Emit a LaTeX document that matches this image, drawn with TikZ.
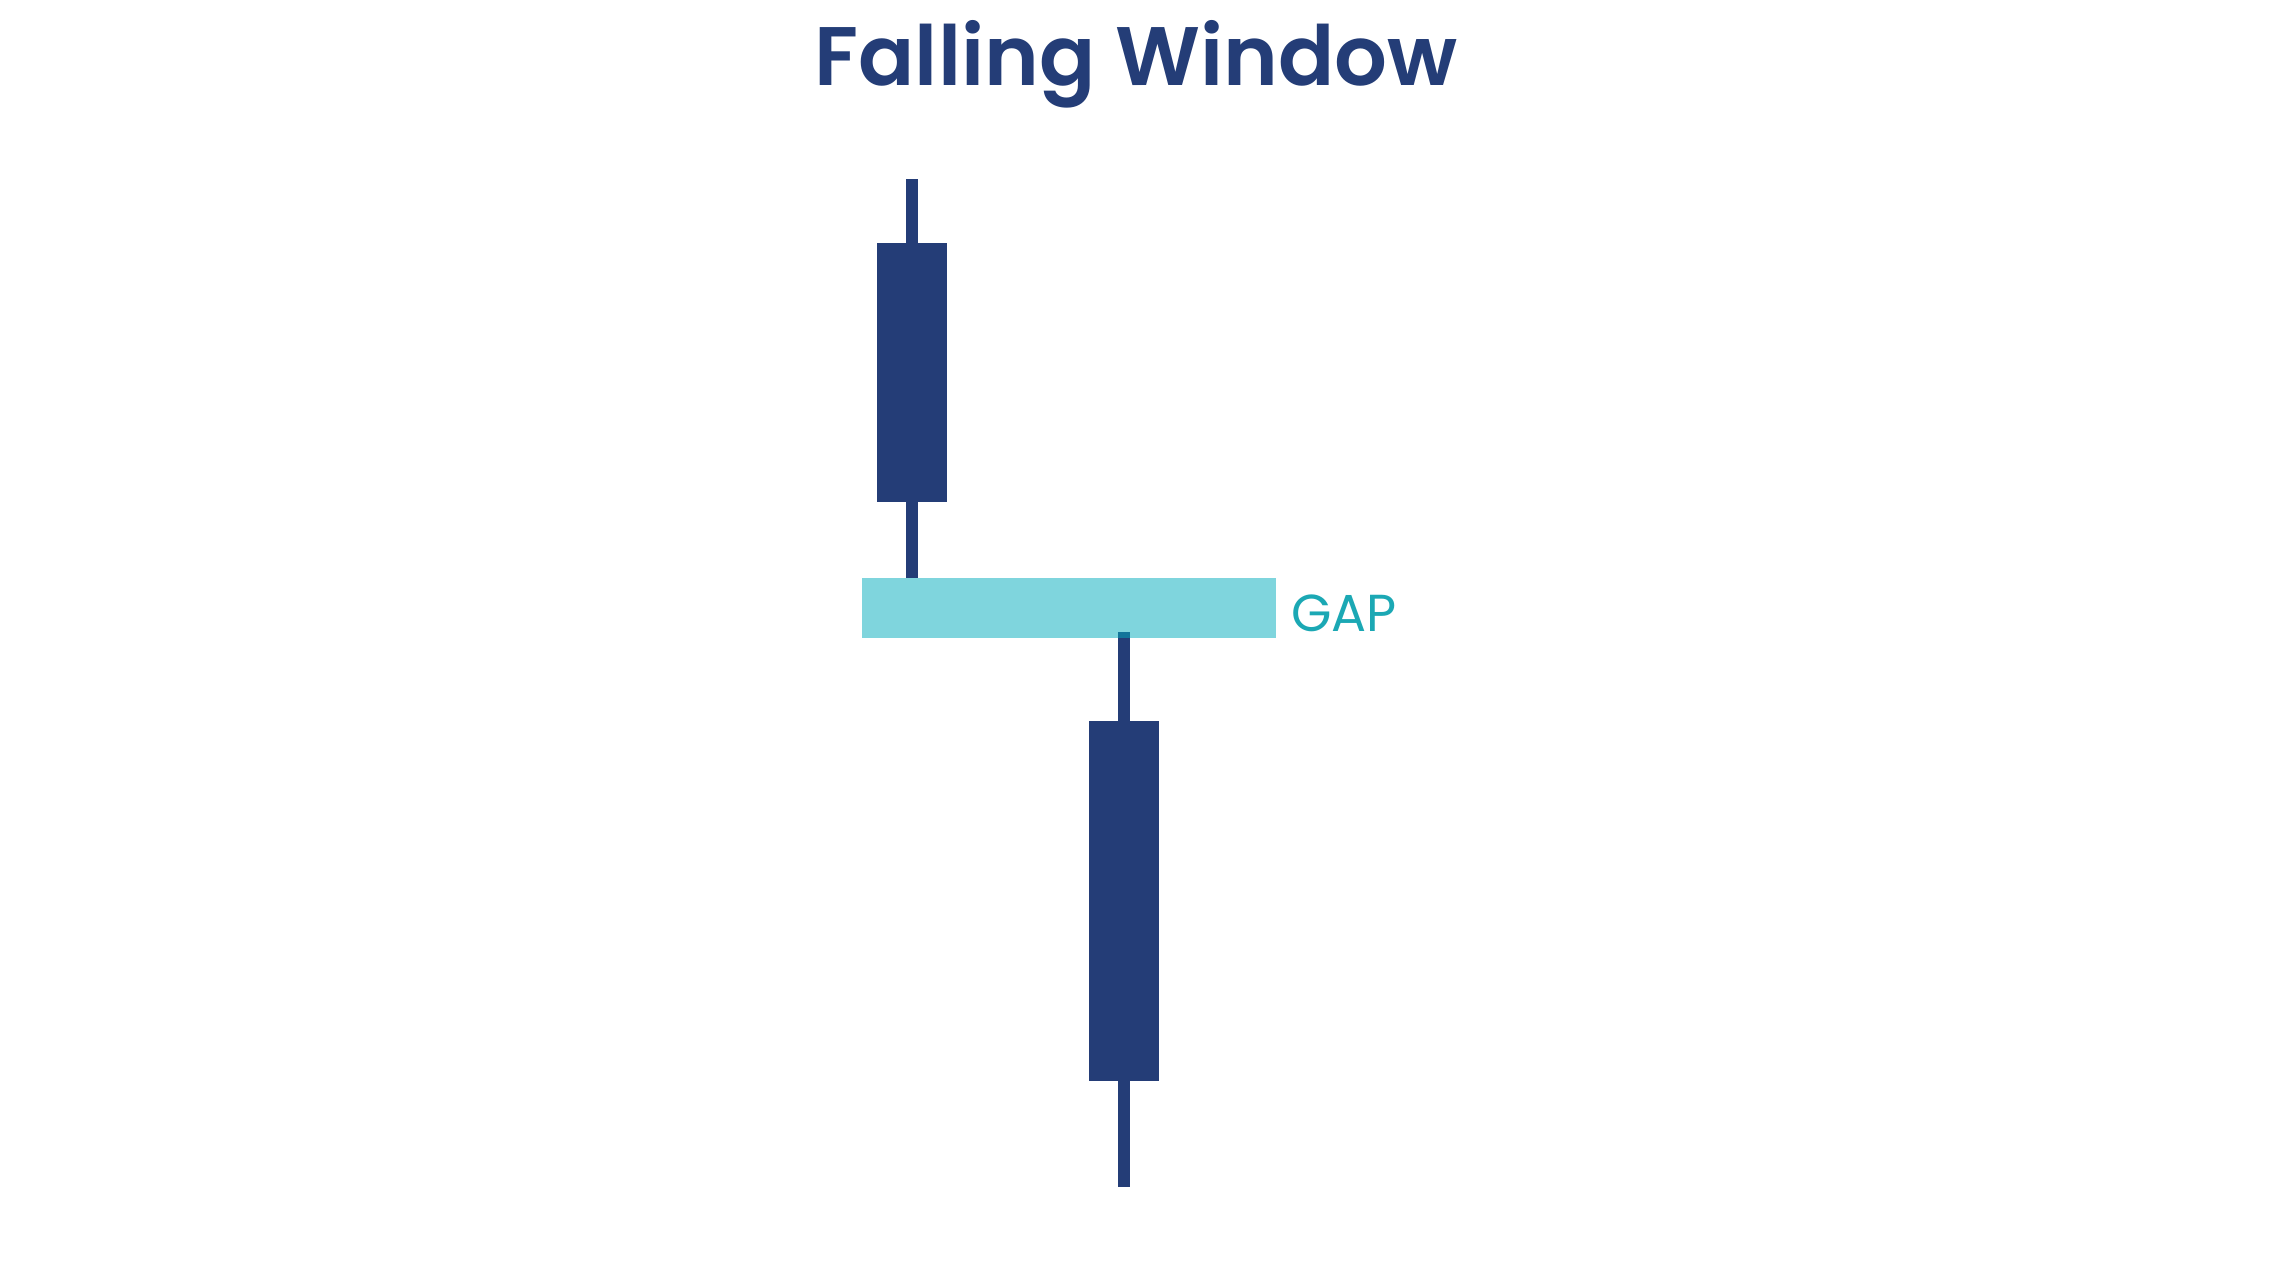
\documentclass[tikz,border=0pt]{standalone}
\usepackage{fontspec}
\setmainfont{Poppins}
\newfontfamily\titlefont{Poppins SemiBold}
\definecolor{navy}{RGB}{36,61,119}
\definecolor{gapbase}{RGB}{1,173,189}
\definecolor{gaptext}{RGB}{27,168,180}
\begin{document}
\begin{tikzpicture}[x=1pt,y=-1pt,
  candle/.style={fill=navy},
  gapband/.style={fill=gapbase,fill opacity=0.5},
  titletext/.style={anchor=base,inner sep=0pt,text=navy,font=\titlefont\fontsize{83}{100}\selectfont},
  gaplabel/.style={anchor=west,inner sep=0pt,text=gaptext,font=\fontsize{52}{62}\selectfont}]
\useasboundingbox[fill=white] (0,0) rectangle (2272,1268);
\node[titletext] (title) at (1136,86) {Falling Window};
% upper candle
\fill[candle] (906,179) rectangle (918,578);
\fill[candle] (877,243) rectangle (947,502);
% lower candle
\fill[candle] (1118,632) rectangle (1130,1187);
\fill[candle] (1089,721) rectangle (1159,1081);
% gap band
\fill[gapband] (862,578) rectangle (1276,638);
\node[gaplabel] (gap) at (1291,613) {GAP};
\end{tikzpicture}
\end{document}
